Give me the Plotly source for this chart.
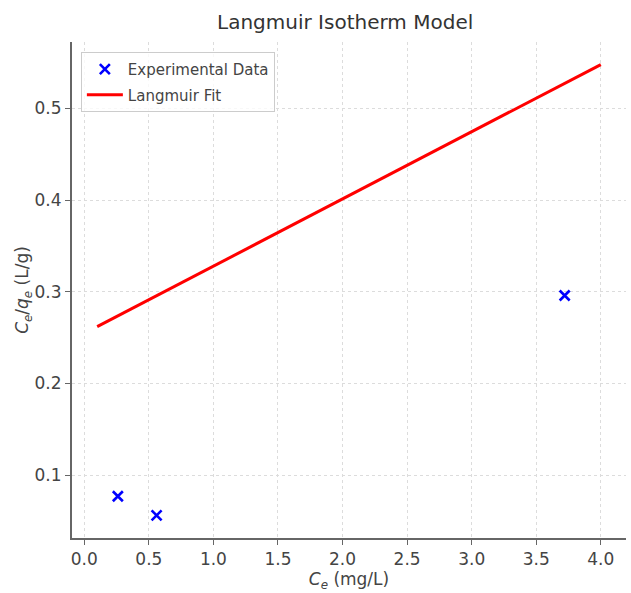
import plotly.graph_objects as go

# Experimental data
ce_exp = [0.26, 0.56, 3.72]
ce_qe_exp = [0.077, 0.056, 0.296]

# Langmuir fit line endpoints
ce_fit = [0.1, 4.0]
ce_qe_fit = [0.262, 0.548]

x_ticks = [0.0, 0.5, 1.0, 1.5, 2.0, 2.5, 3.0, 3.5, 4.0]
y_ticks = [0.1, 0.2, 0.3, 0.4, 0.5]

FONT = "DejaVu Sans"
TXT = "#444444"

fig = go.Figure()
fig.add_trace(go.Scatter(
    x=ce_exp, y=ce_qe_exp, mode="markers", name="Experimental Data",
    marker=dict(symbol="x-thin", size=10, color="blue",
                line=dict(width=2.6, color="blue")),
    legendgroup="a",
))
fig.add_trace(go.Scatter(
    x=ce_fit, y=ce_qe_fit, mode="lines", name="Langmuir Fit",
    line=dict(color="red", width=3),
    legendgroup="b",
))

axis_common = dict(
    showgrid=True, gridcolor="#dcdcdc", griddash="3px,3px", gridwidth=1,
    showline=True, linecolor="#666666", linewidth=2,
    ticks="outside", ticklen=5, tickwidth=1, tickcolor="#666666",
    tickfont=dict(family=FONT, size=17, color=TXT),
    zeroline=False, mirror=False,
)

fig.update_layout(
    width=631, height=593,
    margin=dict(l=72, r=5, t=42, b=55),
    paper_bgcolor="white", plot_bgcolor="white",
    title=dict(text="Langmuir Isotherm Model", x=0.547, xanchor="center",
               y=1 - 22 / 593, yanchor="middle",
               font=dict(family=FONT, size=20, color="#333333")),
    xaxis=dict(range=[-0.095, 4.195], tickvals=x_ticks,
               ticktext=[f"{v:.1f}" for v in x_ticks],
               title=dict(text="<i>C</i><sub><i>e</i></sub> (mg/L)",
                          font=dict(family=FONT, size=17, color=TXT), standoff=5),
               **axis_common),
    yaxis=dict(range=[0.0314, 0.5726], tickvals=y_ticks,
               ticktext=[f"{v:.1f}" for v in y_ticks],
               title=dict(text="<i>C</i><sub><i>e</i></sub>/<i>q</i><sub><i>e</i></sub> (L/g)",
                          font=dict(family=FONT, size=17, color=TXT), standoff=0),
               **axis_common),
    legend=dict(x=0.016, y=0.98, xanchor="left", yanchor="top",
                bgcolor="rgba(255,255,255,0.8)", bordercolor="#cccccc", borderwidth=1,
                font=dict(family=FONT, size=15, color=TXT),
                traceorder="grouped", tracegroupgap=3, itemwidth=36),
    showlegend=True,
)

fig.write_html("out.html")
